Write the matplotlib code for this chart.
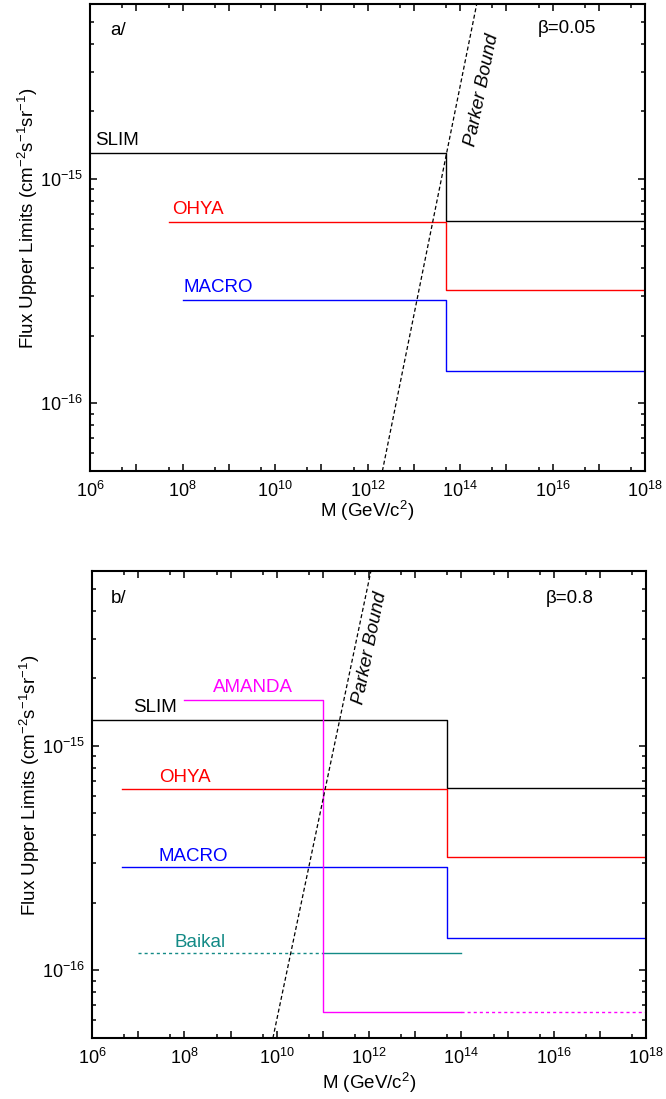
import numpy as np
import matplotlib
matplotlib.use('Agg')
import matplotlib.pyplot as plt
import matplotlib.ticker as mticker

plt.rcParams['font.family'] = 'Liberation Sans'
plt.rcParams['mathtext.fontset'] = 'custom'
plt.rcParams['mathtext.rm'] = 'Liberation Sans'
plt.rcParams['mathtext.it'] = 'Liberation Sans:italic'
plt.rcParams['mathtext.default'] = 'regular'

# DATA  (mass in GeV/c^2, flux in cm^-2 s^-1 sr^-1)
# a/  beta = 0.05
slim_a_m = [1e6, 5e13, 5e13, 1e18]
slim_a_f = [1.3e-15, 1.3e-15, 6.5e-16, 6.5e-16]
ohya_a_m = [5e7, 5e13, 5e13, 1e18]
ohya_a_f = [6.4e-16, 6.4e-16, 3.2e-16, 3.2e-16]
macro_a_m = [1e8, 5e13, 5e13, 1e18]
macro_a_f = [2.9e-16, 2.9e-16, 1.4e-16, 1.4e-16]
parker_a_m = [2.1e12, 2.3e14]
parker_a_f = [5e-17, 6e-15]

# b/  beta = 0.8
slim_b_m = [1e6, 5e13, 5e13, 1e18]
slim_b_f = [1.3e-15, 1.3e-15, 6.5e-16, 6.5e-16]
ohya_b_m = [4.4e6, 5e13, 5e13, 1e18]
ohya_b_f = [6.4e-16, 6.4e-16, 3.2e-16, 3.2e-16]
macro_b_m = [4.4e6, 5e13, 5e13, 1e18]
macro_b_f = [2.9e-16, 2.9e-16, 1.4e-16, 1.4e-16]
amanda_b_m = [1e8, 1e11, 1e11, 1e14]
amanda_b_f = [1.6e-15, 1.6e-15, 6.5e-17, 6.5e-17]
amanda_ext_m = [1e14, 1e18]
amanda_ext_f = [6.5e-17, 6.5e-17]
baikal_ext_m = [1e7, 1e11]
baikal_m = [1e11, 1e14]
baikal_f = [1.2e-16, 1.2e-16]
parker_b_m = [8.3e9, 1.1e12]
parker_b_f = [5e-17, 6e-15]

RED = '#ff0000'
BLUE = '#0000ff'
MAG = '#ff00ff'
TEAL = '#138a86'

fig = plt.figure(figsize=(6.66, 10.99), dpi=100)
ax1 = fig.add_axes([90/666, (1099-471)/1099, 555/666, 467/1099])
ax2 = fig.add_axes([92/666, (1099-1038)/1099, 554/666, 467/1099])


def exp_fmt(v, pos):
    e = int(round(np.log10(v)))
    if e % 2:
        return ''
    return '$10^{%d}$' % e


def yexp_fmt(v, pos):
    e = int(round(np.log10(v)))
    return '$10^{%d}$' % e


def style(ax, xpad):
    ax.set_xscale('log')
    ax.set_yscale('log')
    ax.set_xlim(1e6, 1e18)
    ax.set_ylim(5e-17, 6e-15)
    ax.xaxis.set_major_locator(mticker.LogLocator(base=10, numticks=20))
    ax.xaxis.set_minor_locator(mticker.LogLocator(base=10, subs=(5.0,), numticks=20))
    ax.xaxis.set_major_formatter(mticker.FuncFormatter(exp_fmt))
    ax.xaxis.set_minor_formatter(mticker.NullFormatter())
    ax.yaxis.set_major_locator(mticker.LogLocator(base=10, numticks=10))
    ax.yaxis.set_minor_locator(mticker.LogLocator(base=10, subs=np.arange(2, 10), numticks=10))
    ax.yaxis.set_major_formatter(mticker.FuncFormatter(yexp_fmt))
    ax.yaxis.set_minor_formatter(mticker.NullFormatter())
    ax.tick_params(which='both', direction='in', top=True, right=True, width=1.1)
    ax.tick_params(which='major', length=5.3, labelsize=13)
    ax.tick_params(axis='x', which='major', pad=7)
    ax.tick_params(axis='y', which='major', pad=5)
    ax.tick_params(which='minor', length=2.9)
    for s in ax.spines.values():
        s.set_linewidth(1.5)
    ax.set_xlabel('M (GeV/c$^2$)', fontsize=13.5, labelpad=xpad)
    ax.set_ylabel('Flux Upper Limits (cm$^{-2}$s$^{-1}$sr$^{-1}$)', fontsize=13.5)
    ax.yaxis.set_label_coords(-0.09, 0.54)


# PANEL a
ax1.plot(slim_a_m, slim_a_f, color='black', lw=1)
ax1.plot(ohya_a_m, ohya_a_f, color=RED, lw=1)
ax1.plot(macro_a_m, macro_a_f, color=BLUE, lw=1)
ax1.plot(parker_a_m, parker_a_f, color='black', lw=0.9, dashes=(3.2, 2.0))
style(ax1, -1.5)

ax1.text(1.27e6, 1.41e-15, 'SLIM', fontsize=13.5, va='baseline')
ax1.text(5.9e7, 7.0e-16, 'OHYA', fontsize=13.5, va='baseline', color=RED)
ax1.text(1.05e8, 3.14e-16, 'MACRO', fontsize=13.5, va='baseline', color=BLUE)
ax1.text(0.036, 0.934, 'a/', fontsize=13.5, transform=ax1.transAxes, va='baseline')
ax1.text(0.807, 0.938, '\u03b2=0.05', fontsize=13.5, transform=ax1.transAxes, va='baseline')
ax1.text(0.706, 0.816, 'Parker Bound', fontsize=13.5, style='italic', rotation=78.5,
         transform=ax1.transAxes, ha='center', va='center', rotation_mode='anchor')

# PANEL b
ax2.plot(slim_b_m, slim_b_f, color='black', lw=1)
ax2.plot(ohya_b_m, ohya_b_f, color=RED, lw=1)
ax2.plot(macro_b_m, macro_b_f, color=BLUE, lw=1)
ax2.plot(baikal_ext_m, baikal_f, color=TEAL, lw=1, dashes=(2.2, 2.2))
ax2.plot(baikal_m, baikal_f, color=TEAL, lw=1)
ax2.plot(amanda_b_m, amanda_b_f, color=MAG, lw=1)
ax2.plot(amanda_ext_m, amanda_ext_f, color=MAG, lw=1, dashes=(2.2, 2.2))
ax2.plot(parker_b_m, parker_b_f, color='black', lw=0.9, dashes=(3.2, 2.0))
style(ax2, 2)

ax2.text(7.8e6, 1.42e-15, 'SLIM', fontsize=13.5, va='baseline')
ax2.text(4.2e8, 1.74e-15, 'AMANDA', fontsize=13.5, va='baseline', color=MAG)
ax2.text(2.8e7, 6.9e-16, 'OHYA', fontsize=13.5, va='baseline', color=RED)
ax2.text(2.8e7, 3.08e-16, 'MACRO', fontsize=13.5, va='baseline', color=BLUE)
ax2.text(6.0e7, 1.27e-16, 'Baikal', fontsize=13.5, va='baseline', color=TEAL)
ax2.text(0.034, 0.931, 'b/', fontsize=13.5, transform=ax2.transAxes, va='baseline')
ax2.text(0.819, 0.931, '\u03b2=0.8', fontsize=13.5, transform=ax2.transAxes, va='baseline')
ax2.text(0.502, 0.835, 'Parker Bound', fontsize=13.5, style='italic', rotation=78.5,
         transform=ax2.transAxes, ha='center', va='center', rotation_mode='anchor')

fig.savefig('out.png', dpi=100)
